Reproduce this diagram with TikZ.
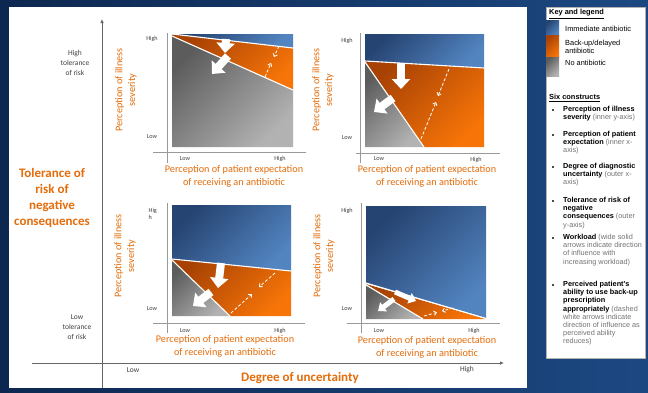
\documentclass[tikz,border=0pt]{standalone}
\usepackage{fontspec}
\setmainfont{Carlito}
\newfontfamily\legendfont{Liberation Sans}
\usetikzlibrary{arrows.meta}
\definecolor{bgdark}{RGB}{13,40,80}
\definecolor{bglight}{RGB}{28,72,130}
\definecolor{bluedark}{RGB}{38,68,114}
\definecolor{bluelight}{RGB}{82,132,192}
\definecolor{orangedark}{RGB}{168,66,4}
\definecolor{orangelight}{RGB}{246,116,8}
\definecolor{graydark}{RGB}{92,92,92}
\definecolor{graylight}{RGB}{178,178,178}
\definecolor{riskorange}{RGB}{228,108,10}
\newcommand{\legnote}[1]{{\color{black!55}#1}}
\begin{document}
\begin{tikzpicture}[x=1pt, y=-1pt,
    blueshade/.style={top color=bluedark, bottom color=bluelight, shading angle=45},
    orangeshade/.style={top color=orangedark, bottom color=orangelight, shading angle=45},
    grayshade/.style={top color=graydark, bottom color=graylight, shading angle=45},
    sepline/.style={draw=white, line width=1.1pt},
    axisline/.style={draw=black!40, line width=0.9pt},
    outeraxis/.style={draw=black!60, line width=0.8pt, -{Latex[length=4pt,width=3.5pt]}},
    workarrow/.style={draw=white, line width=8pt, -{Triangle[width=18pt,length=10pt]}},
    smallwork/.style={draw=white, line width=5pt, -{Triangle[width=11pt,length=7pt]}},
    dasharrow/.style={draw=white, line width=0.8pt, dash pattern=on 3pt off 2pt, -{Straight Barb[length=2.5pt,width=4.5pt]}},
    tick/.style={font=\fontsize{6.2}{7}\selectfont, text=black!75, inner sep=0pt},
    axislabel/.style={font=\fontsize{10.2}{12.8}\selectfont, text=riskorange, align=center, inner sep=0pt},
    outertick/.style={font=\fontsize{7.5}{10}\selectfont, text=black!75, align=center, inner sep=0pt},
    riskhead/.style={font=\bfseries\fontsize{13}{16.3}\selectfont, text=riskorange, align=center, inner sep=0pt},
    legtext/.style={anchor=west, inner sep=0pt, align=left, font=\legendfont\fontsize{7.4}{8}\selectfont},
    legitem/.style={anchor=north west, inner sep=0pt, align=left, font=\legendfont\fontsize{7.3}{8.2}\selectfont}]
    % Frame and panels
    \useasboundingbox (0,0) rectangle (648,392);
    \shade[left color=bgdark, right color=bglight] (0,0) rectangle (648,392);
    \fill[white] (9,7) rectangle (527,388);
    \fill[white, draw=black!30, line width=0.4pt] (546,7) rectangle (645,358);

    % Outer axes
    \coordinate (ybot) at (102,388);
    \coordinate (ytop) at (102,19);
    \coordinate (xleft) at (32,363);
    \coordinate (xright) at (504,363);
    \draw[outeraxis] (ybot) -- (ytop);
    \draw[outeraxis] (xleft) -- (xright);

    % Outer labels
    \node[riskhead] (tol) at (52,198) {Tolerance of\\risk of\\negative\\consequences};
    \node[outertick] (hitol) at (75,63) {High\\tolerance\\of risk};
    \node[outertick] (lotol) at (77,327) {Low\\tolerance\\of risk};
    \node[outertick] (lounc) at (133,370) {Low};
    \node[outertick] (hiunc) at (467,370) {High};
    \node[riskhead] (unc) at (300,378) {Degree of uncertainty};

    % Top left panel
    \shade[blueshade] (172,34) -- (293,34) -- (293,48) -- cycle;
    \shade[orangeshade] (172,34) -- (293,48) -- (293,90) -- (172,36) -- cycle;
    \shade[grayshade] (172,36) -- (293,90) -- (293,147) -- (172,147) -- cycle;
    \draw[sepline] (172,34) -- (293,48);
    \draw[sepline] (172,36) -- (293,90);
    \coordinate (tlws) at (226,39);
    \coordinate (tlwe) at (225,53);
    \coordinate (tlgs) at (228,56);
    \coordinate (tlge) at (212,74);
    \coordinate (tlda) at (279,46);
    \coordinate (tldb) at (274,57);
    \coordinate (tldc) at (265,77);
    \coordinate (tldd) at (271,63);
    \draw[workarrow] (tlws) -- (tlwe);
    \draw[workarrow] (tlgs) -- (tlge);
    \draw[dasharrow] (tlda) -- (tldb);
    \draw[dasharrow] (tldc) -- (tldd);
    \draw[axisline] (167,33) -- (167,163);
    \draw[axisline] (153,152) -- (306,152);
    \node[tick] (tlhi) at (152,39) {High};
    \node[tick] (tllo) at (152,137) {Low};
    \node[tick] (tlxlo) at (185,159) {Low};
    \node[tick] (tlxhi) at (280,159) {High};
    \node[axislabel] (tlx) at (234,176) {Perception of patient expectation\\of receiving an antibiotic};
    \node[axislabel, rotate=90] (tly) at (126,90) {Perception of illness\\severity};

    % Top right panel
    \shade[blueshade] (365,34) -- (484,34) -- (484,68) -- (365,61) -- cycle;
    \shade[orangeshade] (365,61) -- (484,68) -- (484,147) -- (424,147) -- (365,62) -- cycle;
    \shade[grayshade] (365,62) -- (424,147) -- (365,147) -- cycle;
    \draw[sepline] (365,61) -- (484,68);
    \draw[sepline] (365,62) -- (424,147);
    \coordinate (trws) at (401,63);
    \coordinate (trwe) at (401,89);
    \coordinate (trgs) at (393,98);
    \coordinate (trge) at (374,112);
    \coordinate (trda) at (449,69);
    \coordinate (trdb) at (438,96);
    \coordinate (trdc) at (421,139);
    \coordinate (trdd) at (436,102);
    \draw[workarrow] (trws) -- (trwe);
    \draw[workarrow] (trgs) -- (trge);
    \draw[dasharrow] (trda) -- (trdb);
    \draw[dasharrow] (trdc) -- (trdd);
    \draw[axisline] (360,33) -- (360,163);
    \draw[axisline] (356,153) -- (500,153);
    \node[tick] (trhi) at (347,41) {High};
    \node[tick] (trlo) at (347,138) {Low};
    \node[tick] (trxlo) at (379,159) {Low};
    \node[tick] (trxhi) at (476,160) {High};
    \node[axislabel] (trx) at (427,176.5) {Perception of patient expectation\\of receiving an antibiotic};
    \node[axislabel, rotate=90] (try) at (323,90) {Perception of illness\\severity};

    % Bottom left panel
    \shade[blueshade] (172,205) -- (291,205) -- (291,271) -- (172,259) -- cycle;
    \shade[orangeshade] (172,259) -- (291,271) -- (291,316) -- (230,316) -- (172,260) -- cycle;
    \shade[grayshade] (172,260) -- (230,316) -- (172,316) -- cycle;
    \draw[sepline] (172,259) -- (291,271);
    \draw[sepline] (172,260) -- (230,316);
    \coordinate (blws) at (221,263);
    \coordinate (blwe) at (218,288);
    \coordinate (blgs) at (211,292);
    \coordinate (blge) at (193,306);
    \coordinate (blda) at (275,273);
    \coordinate (bldb) at (259,287);
    \coordinate (bldc) at (231,313);
    \coordinate (bldd) at (252,294);
    \draw[workarrow] (blws) -- (blwe);
    \draw[workarrow] (blgs) -- (blge);
    \draw[dasharrow] (blda) -- (bldb);
    \draw[dasharrow] (bldc) -- (bldd);
    \draw[axisline] (167,203) -- (167,333);
    \draw[axisline] (153,323) -- (305,323);
    \node[tick, anchor=north west, align=left] (blhi) at (148.5,208.5) {Hig\\h};
    \node[tick] (bllo) at (152,309) {Low};
    \node[tick] (blxlo) at (185,331) {Low};
    \node[tick] (blxhi) at (280,331) {High};
    \node[axislabel] (blx) at (225,346) {Perception of patient expectation\\of receiving an antibiotic};
    \node[axislabel, rotate=90] (bly) at (125,256) {Perception of illness\\severity};

    % Bottom right panel
    \shade[blueshade] (366,206) -- (486,206) -- (486,318) -- (366,283) -- cycle;
    \shade[orangeshade] (366,284) -- (486,319) -- (423,319) -- cycle;
    \shade[grayshade] (366,285) -- (423,319) -- (366,319) -- cycle;
    \draw[sepline] (366,283) -- (486,318.5);
    \draw[sepline] (366,285) -- (423,319);
    \coordinate (brws) at (395,292);
    \coordinate (brwe) at (416,301);
    \coordinate (brgs) at (394,299);
    \coordinate (brge) at (378,311);
    \coordinate (brda) at (424,316);
    \coordinate (brdb) at (437,312.4);
    \coordinate (brdc) at (453,308);
    \coordinate (brdd) at (442,311);
    \draw[smallwork] (brws) -- (brwe);
    \draw[smallwork] (brgs) -- (brge);
    \draw[dasharrow] (brda) -- (brdb);
    \draw[dasharrow] (brdc) -- (brdd);
    \draw[axisline] (361,203) -- (361,333);
    \draw[axisline] (347,323) -- (500,323);
    \node[tick] (brhi) at (347,211) {High};
    \node[tick] (brlo) at (347,309) {Low};
    \node[tick] (brxlo) at (379,331) {Low};
    \node[tick] (brxhi) at (474,331) {High};
    \node[axislabel] (brx) at (427,347) {Perception of patient expectation\\of receiving an antibiotic};
    \node[axislabel, rotate=90] (bry) at (324,256) {Perception of illness\\severity};

    % Legend
    \node[legtext, font=\legendfont\bfseries\fontsize{7.4}{8}\selectfont] (keyhead) at (549,14) {\underline{Key and legend}};
    \shade[blueshade] (546,20) rectangle (559,35);
    \shade[orangeshade] (546,35) rectangle (559,57);
    \shade[grayshade] (546,57) rectangle (559,76);
    \node[legtext] (keyimm) at (565,29) {Immediate antibiotic};
    \node[legtext] (keydel) at (565,47) {Back-up/delayed\\antibiotic};
    \node[legtext] (keyno) at (565,63) {No antibiotic};
    \node[legtext, font=\legendfont\bfseries\fontsize{7.4}{8}\selectfont] (sixhead) at (549,98) {\underline{Six constructs}};

    % Constructs
    \foreach \by in {110,135,167,201,238,285}
        \fill[black!70] (552,\by-0.8) rectangle (554,\by+0.8);
    \node[legitem] (conill) at (563,106) {\textbf{Perception of illness}\\\textbf{severity} \legnote{(inner y-axis)}};
    \node[legitem] (conexp) at (563,131) {\textbf{Perception of patient}\\\textbf{expectation} \legnote{(inner x-}\\\legnote{axis)}};
    \node[legitem] (conunc) at (563,163) {\textbf{Degree of diagnostic}\\\textbf{uncertainty} \legnote{(outer x-}\\\legnote{axis)}};
    \node[legitem] (contol) at (563,197) {\textbf{Tolerance of risk of}\\\textbf{negative}\\\textbf{consequences} \legnote{(outer}\\\legnote{y-axis)}};
    \node[legitem] (conwork) at (563,234) {\textbf{Workload} \legnote{(wide solid}\\\legnote{arrows indicate direction}\\\legnote{of influence with}\\\legnote{increasing workload)}};
    \node[legitem] (conabil) at (563,281) {\textbf{Perceived patient's}\\\textbf{ability to use back-up}\\\textbf{prescription}\\\textbf{appropriately} \legnote{(dashed}\\\legnote{white arrows indicate}\\\legnote{direction of influence as}\\\legnote{perceived ability}\\\legnote{reduces)}};
\end{tikzpicture}
\end{document}
